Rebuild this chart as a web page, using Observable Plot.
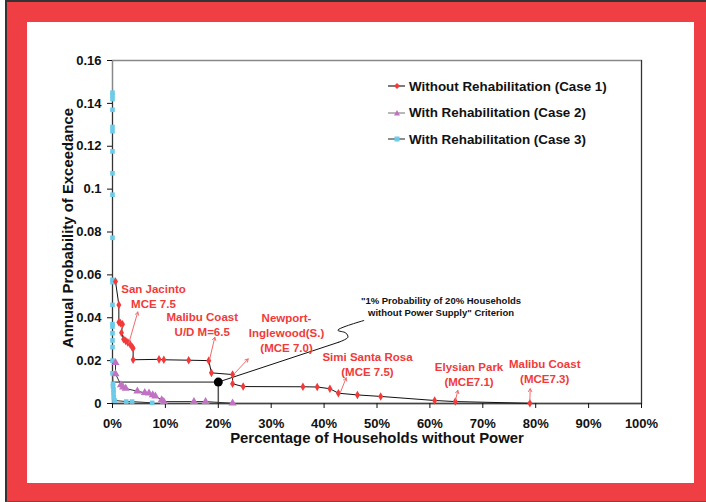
<!DOCTYPE html>
<html>
<head>
<meta charset="utf-8">
<script src="https://cdn.jsdelivr.net/npm/d3@7"></script>
<script src="https://cdn.jsdelivr.net/npm/@observablehq/plot@0.6"></script>
<style>
  body { margin: 0; background: white; font-family: "Liberation Sans", Arial, sans-serif; }
  #page { position: relative; width: 706px; height: 502px; overflow: hidden; }
  #border { position: absolute; left: 5px; top: 0; width: 701px; height: 502px; box-sizing: border-box;
            border-left: 2px solid #333; border-top: 2px solid #333; border-bottom: 1px solid #555; background: #ef3f45; }
  #inner { position: absolute; left: 27px; top: 22px; width: 667px; height: 461px; background: white; }
  #chart { position: absolute; left: 0; top: 0; }
  #legend { position: absolute; left: 386px; top: 73px; font: bold 13.4px "Liberation Sans", Arial, sans-serif; color: #111; }
  #legend .row { display: flex; align-items: center; height: 26.5px; }
  #legend svg { margin-right: 3px; }
</style>
</head>
<body>
<div id="page">
  <div id="border"></div>
  <div id="inner"></div>
  <div id="chart"></div>
  <div id="legend"></div>
</div>
<script>
// Percentage of households without power (x, %) vs annual probability of exceedance (y)
const case1X = [0.57, 1.2, 1.2, 1.5, 1.9, 1.7, 2.1, 2.5, 2.9, 3.3, 3.7, 3.9, 3.9, 8.8, 9.7, 14.4, 18.2, 18.7, 22.7, 22.7, 24.7, 36.0, 38.7, 41.1, 42.7, 46.3, 50.7, 60.9, 64.8, 78.9];
const case1Y = [0.0569, 0.046, 0.0379, 0.0375, 0.037, 0.033, 0.030, 0.0292, 0.0285, 0.0278, 0.0263, 0.0258, 0.0204, 0.0206, 0.0204, 0.0202, 0.0200, 0.0143, 0.0135, 0.0092, 0.0079, 0.0078, 0.0077, 0.0069, 0.0048, 0.0040, 0.0033, 0.0014, 0.0009, 0.0001];

const case2X = [0.57, 0.57, 1.6, 2.0, 2.5, 4.7, 6.1, 6.9, 7.6, 8.1, 9.3, 9.7, 15.4, 17.6, 22.7];
const case2Y = [0.019, 0.0138, 0.0087, 0.0076, 0.0070, 0.0057, 0.0050, 0.0048, 0.0040, 0.0034, 0.0017, 0.0009, 0.0009, 0.0009, 0.0001];

const case3X = [0, 0, 0, 0, 0, 0, 0, 0, 0, 0, 0, 0, 0, 0, 0, 0, 0, 0, 0, 0, 0.1, 0.1, 0.2, 0.2, 0.25, 0.4, 2.6, 3.7, 7.5];
const case3Y = [0.1450, 0.1437, 0.142, 0.137, 0.129, 0.127, 0.1176, 0.1074, 0.0974, 0.0773, 0.0577, 0.0566, 0.046, 0.037, 0.0359, 0.0328, 0.0294, 0.0263, 0.020, 0.0141, 0.0092, 0.0080, 0.0065, 0.0050, 0.0029, 0.0014, 0.0009, 0.0009, 0.0003];

const seriesNames = ["Without Rehabilitation (Case 1)", "With Rehabilitation (Case 2)", "With Rehabilitation (Case 3)"];

const xTicks = [0, 10, 20, 30, 40, 50, 60, 70, 80, 90, 100];
const yTicks = [0, 0.02, 0.04, 0.06, 0.08, 0.1, 0.12, 0.14, 0.16];

// Criterion: 1% probability of 20% households without power
const critX = 20;
const critY = 0.01;

// Scenario labels and the points they call out
const labelText = ["San Jacinto\nMCE 7.5", "Malibu Coast\nU/D M=6.5", "Newport-\nInglewood(S.)\n(MCE 7.0)", "Simi Santa Rosa\n(MCE 7.5)", "Elysian Park\n(MCE7.1)", "Malibu Coast\n(MCE7.3)"];
const labelX = [7.75, 16.96, 32.9, 48.2, 67.4, 81.7];
const labelY = [0.0501, 0.0371, 0.0333, 0.0185, 0.0138, 0.0155];
const arrowX1 = [3.08, 18.34, 23.1, 43.1, 64.84, 78.9];
const arrowY1 = [0.0281, 0.0204, 0.0141, 0.0053, 0.0014, 0.0014];
const arrowX2 = [4.78, 19.34, 25.65, 44.18, 65.27, 78.96];
const arrowY2 = [0.0427, 0.0309, 0.0208, 0.0120, 0.0061, 0.0069];

const critNote = "\"1% Probability of 20% Households\nwithout Power Supply\" Criterion";
const critNoteX = 62.1, critNoteY = 0.0453;
// leader from the criterion point to its note
const leaderX = [20, 42.78];
const leaderY = [0.01, 0.0286];
const squiggleX = [42.78, 44.5, 44.1, 42.6, 47.5];
const squiggleY = [0.0286, 0.0309, 0.0329, 0.0342, 0.0387];

const zip = (xs, ys) => xs.map((x, i) => ({x, y: ys[i]}));
const c1 = zip(case1X, case1Y);
const c2 = zip(case2X, case2Y);
const c3 = zip(case3X, case3Y);
const labels = labelText.map((t, i) => ({t, x: labelX[i], y: labelY[i], x1: arrowX1[i], y1: arrowY1[i], x2: arrowX2[i], y2: arrowY2[i]}));

const red = "#f23a3a";
const purple = "#c272c4";
const cyan = "#6ccbe9";

const chart = Plot.plot({
  width: 706,
  height: 502,
  marginLeft: 112,
  marginRight: 65,
  marginTop: 60,
  marginBottom: 99,
  style: {background: "transparent", fontFamily: "Liberation Sans, Arial, sans-serif", fontWeight: "bold", fontSize: "12px", color: "#111"},
  x: {domain: [0, 100]},
  y: {domain: [0, 0.16]},
  marks: [
    Plot.frame({stroke: "#888", strokeWidth: 1.5}),
    Plot.ruleX([100], {stroke: "#333", strokeWidth: 1}),
    Plot.ruleY([0], {stroke: "#444", strokeWidth: 1.5}),
    Plot.axisX({ticks: xTicks, tickFormat: d => d + "%", tickSize: 5, tickPadding: 10, label: null, fontSize: 13}),
    Plot.axisY({ticks: yTicks, tickFormat: d => d === 0 ? "0" : String(d), tickSize: 5, tickPadding: 6, label: null, fontSize: 13}),
    Plot.text(["Percentage of Households without Power"], {frameAnchor: "bottom", dy: 39, fontSize: 14.9, fontWeight: "bold"}),
    Plot.text(["Annual Probability of Exceedance"], {frameAnchor: "left", rotate: -90, dx: -44, dy: -4, textAnchor: "middle", fontSize: 14.9, fontWeight: "bold"}),

    // criterion guides
    Plot.ruleY([critY], {x1: 0, x2: critX, stroke: "#7a7a7a", strokeWidth: 1.8}),
    Plot.ruleX([critX], {y1: 0, y2: critY, stroke: "#555", strokeWidth: 1.5}),

    // series lines
    Plot.line(c3, {x: "x", y: "y", stroke: "#333", strokeWidth: 1}),
    Plot.line(c2, {x: "x", y: "y", stroke: "#333", strokeWidth: 1}),
    Plot.line(c1, {x: "x", y: "y", stroke: "#111", strokeWidth: 1}),

    // leader to criterion note
    Plot.line(zip(leaderX, leaderY), {x: "x", y: "y", stroke: "#111", strokeWidth: 1}),
    Plot.line(zip(squiggleX, squiggleY), {x: "x", y: "y", stroke: "#111", strokeWidth: 1, curve: "catmull-rom"}),

    // series markers
    Plot.dot(c3, {x: "x", y: "y", symbol: "square", r: 2.6, fill: cyan}),
    Plot.dot(c2, {x: "x", y: "y", symbol: "triangle", r: 3, fill: purple}),
    Plot.dot(c1, {x: "x", y: "y", symbol: "diamond", r: 2.6, fill: red}),

    Plot.dot([{x: critX, y: critY}], {x: "x", y: "y", r: 4.5, fill: "#000"}),

    // scenario labels
    Plot.arrow(labels, {x1: "x1", y1: "y1", x2: "x2", y2: "y2", stroke: "#f26a6a", strokeWidth: 1, headLength: 5, bend: 0}),
    Plot.text(labels, {x: "x", y: "y", text: "t", fill: red, fontSize: 11.5, fontWeight: "bold", lineHeight: 1.3}),
    Plot.text([critNote], {x: () => critNoteX, y: () => critNoteY, fill: "#111", fontSize: 9.5, fontWeight: "bold", lineHeight: 1.25})
  ]
});
document.getElementById("chart").appendChild(chart);

// legend
const swatches = [
  {stroke: "#222", fill: red, shape: "diamond"},
  {stroke: "#888", fill: purple, shape: "triangle"},
  {stroke: "#444", fill: cyan, shape: "square"}
];
const legend = document.getElementById("legend");
seriesNames.forEach((name, i) => {
  const s = swatches[i];
  const row = document.createElement("div");
  row.className = "row";
  let marker;
  if (s.shape === "diamond") marker = `<path d="M11,2 L14,5 L11,8 L8,5 Z" fill="${s.fill}"/>`;
  else if (s.shape === "triangle") marker = `<path d="M11,2 L14,7.5 L8,7.5 Z" fill="${s.fill}"/>`;
  else marker = `<rect x="8.5" y="2.5" width="5" height="5" fill="${s.fill}"/>`;
  row.innerHTML = `<svg width="20" height="10"><line x1="2" x2="19" y1="5" y2="5" stroke="${s.stroke}" stroke-width="1.2"/>${marker}</svg><span>${name}</span>`;
  legend.appendChild(row);
});
</script>
</body>
</html>
